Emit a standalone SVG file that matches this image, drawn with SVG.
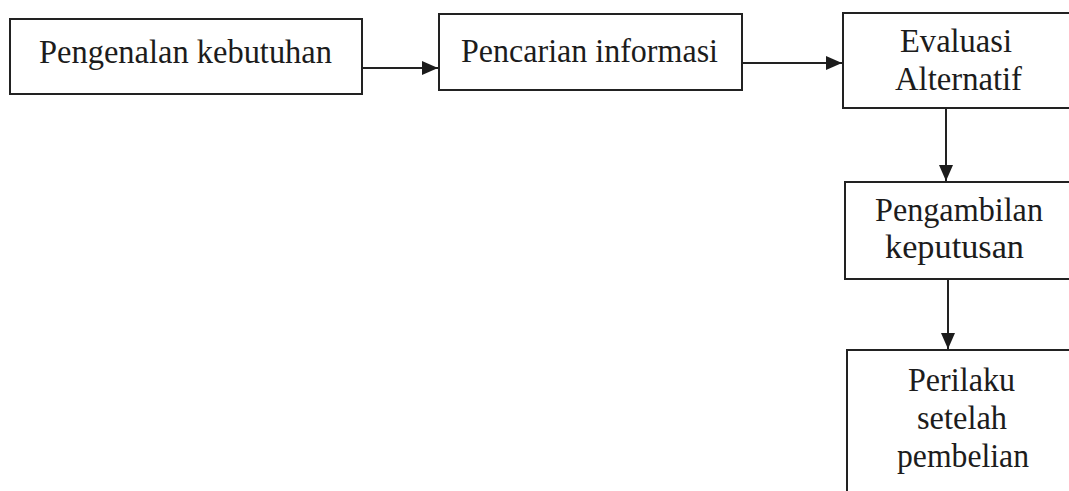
<svg xmlns="http://www.w3.org/2000/svg" width="1069" height="491" viewBox="0 0 1069 491">
<style>
.box{fill:#fff;stroke:#222;stroke-width:2}
.t{font-family:"Liberation Serif","Times New Roman",serif;font-size:34px;fill:#1c1c1c}
.c{stroke:#222;stroke-width:2;fill:none}
</style>
<defs>
<marker id="ah" markerUnits="userSpaceOnUse" markerWidth="16" markerHeight="14" refX="16" refY="7" orient="auto">
<path d="M0,0 L16,7 L0,14 Z" fill="#1c1c1c"/>
</marker>
</defs>
<rect width="1069" height="491" fill="#fff"/>
<g id="connectors">
<line class="c" x1="362" y1="68" x2="438" y2="68" marker-end="url(#ah)"/>
<line class="c" x1="742" y1="63" x2="842" y2="63" marker-end="url(#ah)"/>
<line class="c" x1="946" y1="108" x2="946" y2="181" marker-end="url(#ah)"/>
<line class="c" x1="948" y1="279" x2="948" y2="349" marker-end="url(#ah)"/>
</g>
<g id="n1">
<rect class="box" x="10" y="19" width="352" height="75"/>
<text class="t" x="39" y="63" textLength="293" lengthAdjust="spacingAndGlyphs">Pengenalan kebutuhan</text>
</g>
<g id="n2">
<rect class="box" x="439" y="14" width="303" height="76"/>
<text class="t" x="461" y="62" textLength="257" lengthAdjust="spacingAndGlyphs">Pencarian informasi</text>
</g>
<g id="n3">
<rect class="box" x="843" y="13" width="240" height="95"/>
<text class="t" x="900" y="52" textLength="112" lengthAdjust="spacingAndGlyphs">Evaluasi</text>
<text class="t" x="895" y="90" textLength="127" lengthAdjust="spacingAndGlyphs">Alternatif</text>
</g>
<g id="n4">
<rect class="box" x="845" y="182" width="240" height="97"/>
<text class="t" x="875" y="221" textLength="168" lengthAdjust="spacingAndGlyphs">Pengambilan</text>
<text class="t" x="885" y="258" textLength="139" lengthAdjust="spacingAndGlyphs">keputusan</text>
</g>
<g id="n5">
<rect class="box" x="847" y="350" width="240" height="160"/>
<text class="t" x="908" y="391" textLength="107" lengthAdjust="spacingAndGlyphs">Perilaku</text>
<text class="t" x="917" y="429" textLength="90" lengthAdjust="spacingAndGlyphs">setelah</text>
<text class="t" x="897" y="467" textLength="132" lengthAdjust="spacingAndGlyphs">pembelian</text>
</g>
</svg>
